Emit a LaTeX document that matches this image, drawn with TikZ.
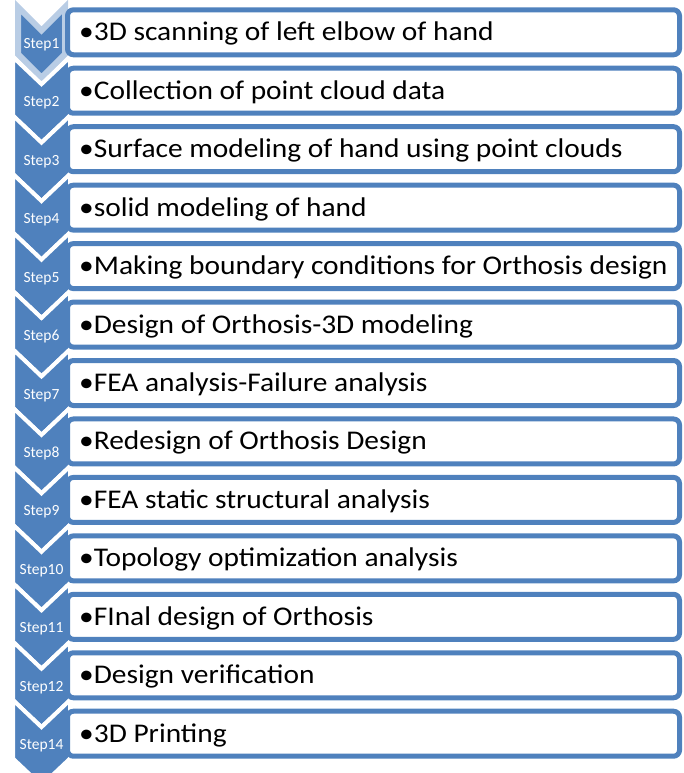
\documentclass[tikz,border=0pt]{standalone}
\usepackage{fontspec}
\setmainfont{Carlito}
\newfontfamily\boxfont{Carlito}[FakeStretch=1.09]
\definecolor{sblue}{HTML}{4F81BD}
\definecolor{slight}{HTML}{B9CDE5}
\tikzset{
  chev/.style={fill=sblue, draw=white, line width=4pt, line join=miter},
  firstchev/.style={fill=sblue, draw=slight, line width=6pt, line join=miter},
  stepbox/.style={draw=sblue, fill=white, line width=5pt, rounded corners=6pt},
  boxtext/.style={anchor=base west, inner sep=0pt, font=\boxfont\fontsize{27}{30}\selectfont},
  steplabel/.style={anchor=base, text=white, inner sep=0pt, font=\fontsize{15.5}{17}\selectfont}
}
\begin{document}
\begin{tikzpicture}[x=1pt,y=-1pt]
\useasboundingbox (0,0) rectangle (683,773);
\clip (0,0) rectangle (683,773);
% chevrons
\path[firstchev] (18,7) -- (41.5,30.5) -- (65,7) -- (65,54.2) -- (41.5,77.7) -- (18,54.2) -- cycle;
\foreach \k in {2,...,13}{
  \pgfmathsetmacro{\T}{32.3+(\k-1)*58.45-33.6}
  \path[chev] (13,\T) -- (41.5,\T+27) -- (70,\T) -- (70,\T+58.45) -- (41.5,\T+85.45) -- (13,\T+58.45) -- cycle;
}
% boxes, texts and step labels
\foreach \k/\s/\txt in {
  1/Step1/3D scanning of left elbow of hand,
  2/Step2/Collection of point cloud data,
  3/Step3/Surface modeling of hand using point clouds,
  4/Step4/solid modeling of hand,
  5/Step5/Making boundary conditions for Orthosis design,
  6/Step6/Design of Orthosis-3D modeling,
  7/Step7/FEA analysis-Failure analysis,
  8/Step8/Redesign of Orthosis Design,
  9/Step9/FEA static structural analysis,
  10/Step10/Topology optimization analysis,
  11/Step11/FInal design of Orthosis,
  12/Step12/Design verification,
  13/Step14/3D Printing}{
  \pgfmathsetmacro{\c}{32.3+(\k-1)*58.45}
  \draw[stepbox] (67.5,\c-22.5) rectangle (679.5,\c+22.5);
  \node[boxtext] (box\k) at (79,\c+8.5) {•\txt};
  \node[steplabel] (step\k) at (41.5,\c+16) {\s};
}
\end{tikzpicture}
\end{document}
